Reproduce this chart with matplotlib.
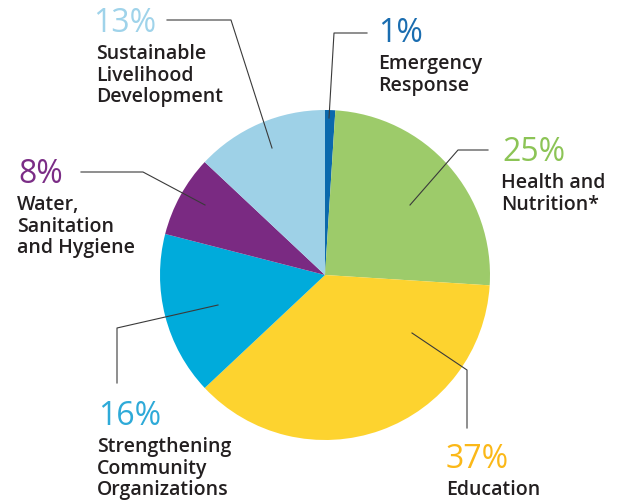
import matplotlib
matplotlib.use("Agg")
import matplotlib.pyplot as plt

categories = ["Emergency Response", "Health and Nutrition*", "Education",
              "Strengthening Community Organizations", "Water, Sanitation and Hygiene",
              "Sustainable Livelihood Development"]
values = [1, 25, 37, 16, 8, 13]
pct_labels = ["1%", "25%", "37%", "16%", "8%", "13%"]
label_lines = [["Emergency", "Response"], ["Health and", "Nutrition*"], ["Education"],
               ["Strengthening", "Community", "Organizations"],
               ["Water,", "Sanitation", "and Hygiene"],
               ["Sustainable", "Livelihood", "Development"]]
wedge_colors = ["#0b69ac", "#9dcb6a", "#fdd32f", "#00abdb", "#7a2a82", "#9ed1e7"]
pct_colors = ["#1a6db0", "#8cc456", "#fbb818", "#2eaad8", "#7b2d86", "#9fd3ea"]

W, H = 619, 504
fig = plt.figure(figsize=(W / 100, H / 100), dpi=100)
ax = fig.add_axes([0, 0, 1, 1])


def Y(y):
    return H - y


ax.pie(values, colors=wedge_colors, startangle=90, counterclock=False,
       center=(325, Y(275)), radius=165, frame=True,
       wedgeprops=dict(linewidth=0))
ax.set_xlim(0, W)
ax.set_ylim(0, H)
ax.set_aspect("equal")
ax.axis("off")

# (percent x, percent baseline y, label x) in pixels
anchors = [(378, 42, 378), (502, 161, 501), (446, 468, 446),
           (98, 425, 97), (18, 183, 17), (93, 32, 96)]
for (x, yb, lx), pct, pc, lines in zip(anchors, pct_labels, pct_colors, label_lines):
    ax.text(x, Y(yb), pct, color=pc, fontsize=23, family="Open Sans",
            va="baseline", ha="left")
    for i, ln in enumerate(lines):
        ax.text(lx, Y(yb + 27 + 21.7 * i), ln, color="#231f20", fontsize=14,
                family="Open Sans", weight="semibold", va="baseline", ha="left")

leaders = [
    [(367, 33), (334, 33), (329, 118)],
    [(488, 150), (458, 150), (410, 205)],
    [(467, 428), (467, 370), (412, 333)],
    [(117, 383), (117, 328), (218, 305)],
    [(81, 172), (143, 172), (205, 205)],
    [(167, 20), (231, 20), (272, 148)],
]
for pts in leaders:
    xs = [p[0] for p in pts]
    ys = [Y(p[1]) for p in pts]
    ax.plot(xs, ys, color="#3a3a3a", linewidth=0.8)

fig.savefig("out.png", dpi=100)
